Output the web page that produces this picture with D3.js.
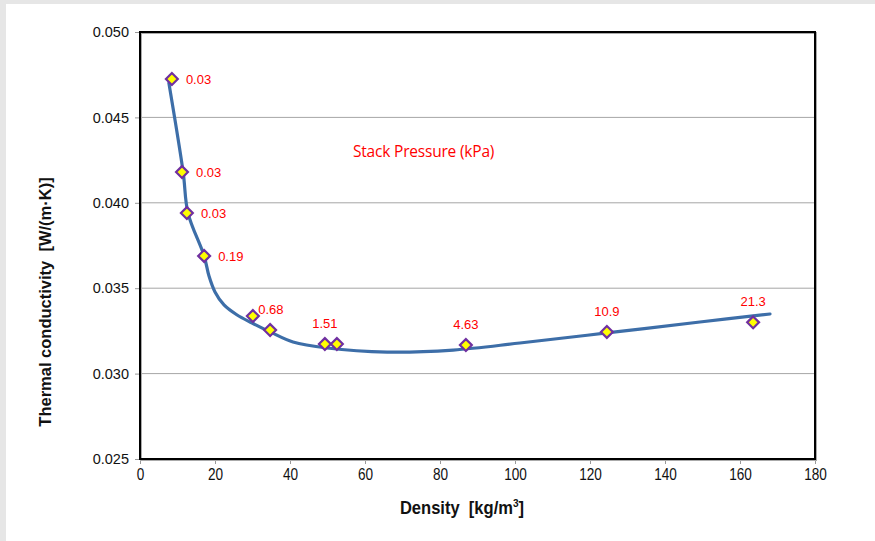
<!DOCTYPE html>
<html>
  <head>
    <meta charset="utf-8" />
    <title>Thermal conductivity vs density</title>
    <script src="https://d3js.org/d3.v7.min.js"></script>
    <style>
        body {
            margin:0;
            background:#e6e6e6;
        }
        text {
            white-space: pre;
        }
    </style>
  </head>
  <body>
      <svg id="viz"></svg>

    <script>

        // measured points
        var density = [8.5, 11.2, 12.5, 17.1, 30.1, 34.7, 49.3, 52.5, 86.9, 124.5, 163.5];
        var conductivity = [0.04725, 0.0418, 0.0394, 0.03689, 0.03337, 0.03255, 0.03173, 0.03173, 0.03167, 0.03244, 0.0330];
        // stack pressure labels (kPa), empty where no label shown
        var pressure = ["0.03", "0.03", "0.03", "0.19", "0.68", "", "1.51", "", "4.63", "10.9", "21.3"];

        // fitted trend line
        var fitX = [7.7, 11.5, 12.8, 17.1, 18.4, 20.0, 22.4, 25.9, 29.9, 34.7, 40.8, 49.9, 65.9, 83.5, 101.3, 124.5, 149.3, 168.0];
        var fitY = [0.04701, 0.0418, 0.0394, 0.03689, 0.03571, 0.03478, 0.03402, 0.03343, 0.03296, 0.03244, 0.03185, 0.0315, 0.03126, 0.03138, 0.03179, 0.03238, 0.03302, 0.03349];

        var xTicks = [0, 20, 40, 60, 80, 100, 120, 140, 160, 180];
        var yTicks = [0.025, 0.030, 0.035, 0.040, 0.045, 0.050];

        var width = 875;
        var height = 541;
        var pLeft = 140, pRight = 815, pTop = 32, pBottom = 459;

        var svg = d3.select("#viz")
        .attr("width", width)
        .attr("height", height)
        .style("display", "block");

        // white card, gray strip on top and left
        svg.append("rect")
        .attr("x", 6).attr("y", 4)
        .attr("width", width - 6).attr("height", height - 4)
        .attr("fill", "white");

        var x = d3.scaleLinear().domain([0, 180]).range([pLeft, pRight]);
        var y = d3.scaleLinear().domain([0.025, 0.050]).range([pBottom, pTop]);

        // gridlines
        svg.append("g")
        .selectAll("line")
        .data(yTicks.slice(1, -1))
        .enter().append("line")
        .attr("x1", pLeft).attr("x2", pRight)
        .attr("y1", function (d){ return y(d); })
        .attr("y2", function (d){ return y(d); })
        .attr("stroke", "#a6a6a6")
        .attr("stroke-width", 1);

        // axes
        var yAxis = d3.axisLeft(y).tickValues(yTicks).tickFormat(d3.format(".3f")).tickSize(5).tickPadding(6);
        var xAxis = d3.axisBottom(x).tickValues(xTicks).tickFormat(d3.format("d")).tickSize(5).tickPadding(6);

        var gy = svg.append("g").attr("transform", "translate(" + pLeft + ",0)").call(yAxis);
        var gx = svg.append("g").attr("transform", "translate(0," + pBottom + ")").call(xAxis);

        [gx, gy].forEach(function (g){
            g.select(".domain").remove();
            g.selectAll(".tick line").attr("stroke", "#999");
            g.selectAll(".tick text")
            .attr("fill", "#111")
            .style("font-family", "Liberation Sans, Arial, sans-serif")
            .style("font-size", "14.5px");
        });
        // narrow look for the x tick labels
        gx.selectAll(".tick text")
        .attr("transform", "scale(0.85,1)")
        .attr("y", 10)
        .style("font-size", "16px");

        // plot frame with a light shadow
        svg.append("rect")
        .attr("x", pLeft + 1).attr("y", pTop + 1)
        .attr("width", pRight - pLeft).attr("height", pBottom - pTop)
        .attr("fill", "none")
        .attr("stroke", "#aaa")
        .attr("stroke-width", 2);
        svg.append("rect")
        .attr("x", pLeft).attr("y", pTop)
        .attr("width", pRight - pLeft).attr("height", pBottom - pTop)
        .attr("fill", "none")
        .attr("stroke", "black")
        .attr("stroke-width", 2);

        // trend line
        var fit = fitX.map(function (d, i){ return [d, fitY[i]]; });
        var line = d3.line()
        .x(function (d){ return x(d[0]); })
        .y(function (d){ return y(d[1]); })
        .curve(d3.curveCatmullRom.alpha(0.5));

        svg.append("path")
        .datum(fit)
        .attr("d", line)
        .attr("fill", "none")
        .attr("stroke", "#3d6ea8")
        .attr("stroke-width", 3.2)
        .attr("stroke-linecap", "round");

        // markers
        var pts = density.map(function (d, i){
            return {x: d, y: conductivity[i], label: pressure[i]};
        });

        var diamond = d3.symbol().type(d3.symbolDiamond2).size(90);

        svg.append("g")
        .selectAll("path")
        .data(pts)
        .enter().append("path")
        .attr("d", diamond)
        .attr("transform", function (d){
            return "translate(" + x(d.x) + "," + y(d.y) + ")";
        })
        .attr("fill", "#ffff00")
        .attr("stroke", "#7030a0")
        .attr("stroke-width", 2.2);

        // data labels: first four to the right, rest above
        svg.append("g")
        .selectAll("text")
        .data(pts.filter(function (d){ return d.label !== ""; }))
        .enter().append("text")
        .attr("x", function (d, i){
            return i < 4 ? x(d.x) + 14 : (i === 4 ? x(d.x) + 18 : x(d.x));
        })
        .attr("y", function (d, i){
            return i < 4 ? y(d.y) + 5 : (i === 4 ? y(d.y) - 2 : y(d.y) - 16);
        })
        .attr("text-anchor", function (d, i){ return i < 4 ? "start" : "middle"; })
        .attr("fill", "#ff0000")
        .style("font-family", "Liberation Sans, Arial, sans-serif")
        .style("font-size", "13px")
        .text(function (d){ return d.label; });

        // annotation
        svg.append("text")
        .attr("x", 353).attr("y", 157)
        .attr("fill", "#ff0000")
        .style("font-family", "Open Sans, Lato, sans-serif")
        .style("font-size", "15.5px")
        .style("letter-spacing", "-0.2px")
        .text("Stack Pressure (kPa)");

        // axis titles
        var xt = svg.append("text")
        .attr("transform", "translate(462,514) scale(0.92,1)")
        .attr("text-anchor", "middle")
        .style("font-family", "Liberation Sans, Arial, sans-serif")
        .style("font-weight", "bold")
        .style("font-size", "18px")
        .attr("fill", "#111");
        xt.append("tspan").text("Density  [kg/m");
        xt.append("tspan").attr("dy", -7).style("font-size", "11px").text("3");
        xt.append("tspan").attr("dy", 7).text("]");

        svg.append("text")
        .attr("transform", "translate(51,302) rotate(-90)")
        .attr("text-anchor", "middle")
        .style("font-family", "Liberation Sans, Arial, sans-serif")
        .style("font-weight", "bold")
        .style("font-size", "16.5px")
        .attr("fill", "#111")
        .text("Thermal conductivity  [W/(m·K)]");

    </script>
  </body>
</html>
